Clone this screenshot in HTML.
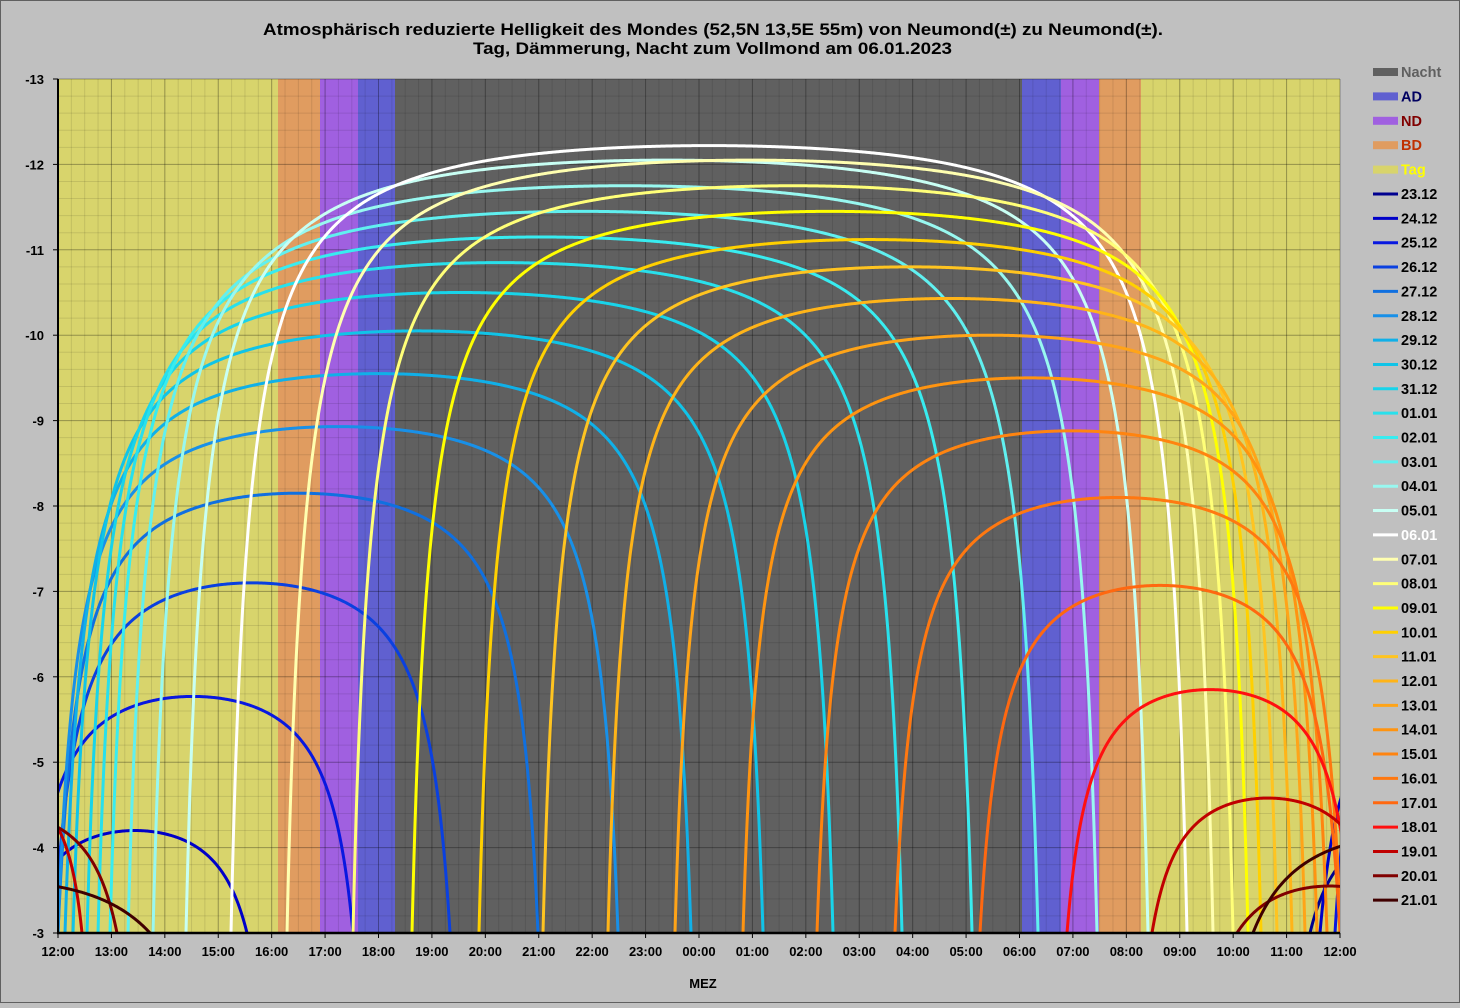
<!DOCTYPE html>
<html><head><meta charset="utf-8">
<style>
html,body{margin:0;padding:0;background:#c0c0c0;}
body{width:1460px;height:1003px;overflow:hidden;font-family:"Liberation Sans",Arial,sans-serif;}
svg text{font-family:"Liberation Sans",Arial,sans-serif;font-weight:bold;}
</style></head>
<body>
<svg id="s" width="1460" height="1003" xmlns="http://www.w3.org/2000/svg">
<rect x="0.5" y="0.5" width="1459" height="1002" fill="#c0c0c0" stroke="#606060"/>
<text x="263" y="35" font-size="17" textLength="900" lengthAdjust="spacingAndGlyphs">Atmosphärisch reduzierte Helligkeit des Mondes (52,5N 13,5E  55m) von Neumond(±) zu Neumond(±).</text>
<text x="473" y="54" font-size="17" textLength="479" lengthAdjust="spacingAndGlyphs">Tag, Dämmerung, Nacht zum Vollmond am 06.01.2023</text>
<defs><clipPath id="cp"><rect x="58" y="79" width="1282" height="854"/></clipPath></defs>
<g id="bands"></g>
<g id="grid"></g>
<g id="curves" clip-path="url(#cp)"></g>
<g id="axes"></g>
<g id="labels" font-size="13"></g>
<text x="703" y="988" font-size="13" text-anchor="middle">MEZ</text>
<g id="legend" font-size="14.5"></g>
</svg>
<script>
const NS="http://www.w3.org/2000/svg";
const X0=58,X1=1340,Y0=79,Y1=933,U=85.4,H=(X1-X0)/24;
const vy=v=>Y0+(v+13)*U;
function el(p,t,a,txt){const e=document.createElementNS(NS,t);for(const k in a)e.setAttribute(k,a[k]);if(txt!==undefined)e.textContent=txt;document.getElementById(p).appendChild(e);return e;}
const bands=[[58,278,"#d8d46c"],[278,320,"#e09c60"],[320,358,"#a060e0"],[358,395,"#6060d0"],[395,1022,"#606060"],[1022,1061,"#6060d0"],[1061,1099,"#a060e0"],[1099,1141,"#e09c60"],[1141,1340,"#d8d46c"]];
bands.forEach(b=>el("bands","rect",{x:b[0],y:Y0,width:b[1]-b[0],height:Y1-Y0,fill:b[2]}));
for(let i=0;i<=96;i++){const x=X0+i*H/4;el("grid","line",{x1:x,x2:x,y1:Y0,y2:Y1,stroke:i%4==0?"rgba(0,0,0,0.32)":"rgba(0,0,0,0.1)","stroke-width":1});}
for(let i=0;i<=50;i++){const y=Y0+i*U/5;el("grid","line",{x1:X0,x2:X1,y1:y,y2:y,stroke:i%5==0?"rgba(0,0,0,0.32)":"rgba(0,0,0,0.1)","stroke-width":1});}
el("axes","line",{x1:X0,x2:X0,y1:Y0,y2:Y1+1,stroke:"#000","stroke-width":2});
el("axes","line",{x1:X0-1,x2:X1,y1:Y1,y2:Y1,stroke:"#000","stroke-width":2.5});
for(let i=0;i<=10;i++){const y=Y0+i*U;el("axes","line",{x1:X0-5,x2:X0,y1:y,y2:y,stroke:"#000"});el("labels","text",{x:X0-14,y:y+5,"text-anchor":"end"},String(-13+i));}
for(let i=0;i<=24;i++){const x=X0+i*H;el("axes","line",{x1:x,x2:x,y1:Y1,y2:Y1+5,stroke:"#000"});const h=(12+i)%24;el("labels","text",{x:x,y:956,"text-anchor":"middle"},(h<10?"0":"")+h+":00");}
function epsFor(A){const l=Math.log(A);if(l<1.41)return 0.55*Math.exp(-(l-0.18)*0.82);return Math.max(0.045,0.2*Math.exp(-(l-1.41)*1.48));}
function arc(c,w,P,col){const A=-3-P;const e=epsFor(A);const D=s=>1/(s+e)-1/(1+e);const D0=D(0);
 let d="";const xa=Math.max(X0-5,c-w),xb=Math.min(X1+5,c+w);if(xb<=xa)return;
 const pts=[xa,xb];for(let x=Math.ceil(xa);x<xb;x+=1)pts.push(x);
 for(let k=1;k<=10;k++){const f=Math.pow(0.5,k)*4;if(c-w+f>xa&&c-w+f<xb)pts.push(c-w+f);if(c+w-f>xa&&c+w-f<xb)pts.push(c+w-f);}
 pts.sort((a,b)=>a-b);
 pts.forEach((x,i)=>{let u=Math.min(1,Math.abs((x-c)/w));const s=Math.cos(Math.PI*u/2);const g=1-D(s)/D0;const y=vy(-3-A*g);d+=(i?"L":"M")+x.toFixed(2)+","+y.toFixed(2);});
 el("curves","path",{d:d,fill:"none",stroke:col,"stroke-width":3,"stroke-linejoin":"round"});}
const S=[
["23.12","#000090",[[1420,110,-4.2]]],
["24.12","#0000c8",[[135,112,-4.2],[1470,150,-5.8]]],
["25.12","#0818e0",[[193,160,-5.77],[1530,195,-7.1]]],
["26.12","#0a40e0",[[252,198,-7.1]]],
["27.12","#1070e0",[[298,240,-8.15]]],
["28.12","#1890e8",[[338,280,-8.93]]],
["29.12","#10b0e8",[[378,313,-9.55]]],
["30.12","#10c4e8",[[418,345,-10.05]]],
["31.12","#18d4ea",[[460,373,-10.5]]],
["01.01","#28e0ec",[[500,402,-10.85]]],
["02.01","#38ecf0",[[541,431,-11.15]]],
["03.01","#60f0f0",[[583,455,-11.45]]],
["04.01","#98f8f0",[[625,472,-11.75]]],
["05.01","#c8fff4",[[667,481,-12.05]]],
["06.01","#ffffff",[[709,478,-12.22]]],
["07.01","#ffffb0",[[750,463,-12.05]]],
["08.01","#ffff78",[[793,440,-11.75]]],
["09.01","#ffff00",[[830,418,-11.45]]],
["10.01","#ffd000",[[870,391,-11.12]]],
["11.01","#ffc420",[[910,367,-10.8]]],
["12.01","#ffb418",[[950,342,-10.43]]],
["13.01","#ffa418",[[990,315,-10.0]]],
["14.01","#ff9410",[[1030,287,-9.5]]],
["15.01","#ff8410",[[1072,255,-8.88]]],
["16.01","#ff7810",[[1118,223,-8.1]]],
["17.01","#ff6810",[[1160,180,-7.07]]],
["18.01","#ff1010",[[1210,143,-5.85]]],
["19.01","#c00000",[[1268,116,-4.58],[10,72,-4.6]]],
["20.01","#800000",[[1330,93,-3.55],[0,117,-4.4]]],
["21.01","#400000",[[1420,167,-4.15],[0,150,-3.6]]]
];
S.forEach(s=>s[2].forEach(a=>arc(a[0],a[1],a[2],s[1])));
const LB=[["Nacht","#606060","#606060"],["AD","#6060d0","#000060"],["ND","#a060e0","#800000"],["BD","#e09c60","#c03000"],["Tag","#d8d46c","#ffff00"]];
let ly=72;
LB.forEach(b=>{el("legend","rect",{x:1373,y:ly-4,width:25,height:8,fill:b[1]});el("legend","text",{x:1401,y:ly+5,fill:b[2]},b[0]);ly+=24.4;});
S.forEach(s=>{el("legend","line",{x1:1373,x2:1398,y1:ly,y2:ly,stroke:s[1],"stroke-width":3});el("legend","text",{x:1401,y:ly+5,fill:s[0]=="06.01"?"#ffffff":"#000"},s[0]);ly+=24.35;});
</script>
</body></html>
